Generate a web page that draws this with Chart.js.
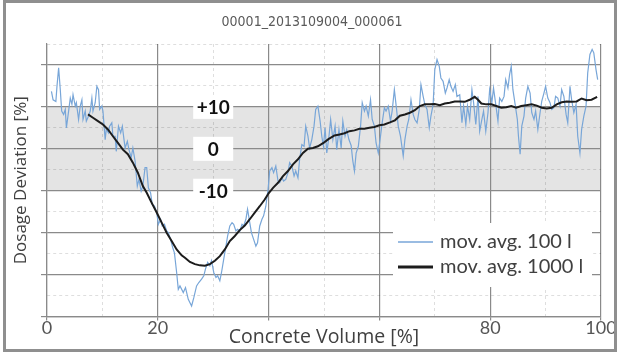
<!DOCTYPE html>
<html>
<head>
<meta charset="utf-8">
<title>Dosage Deviation</title>
<script src="https://cdn.jsdelivr.net/npm/chart.js@4/dist/chart.umd.min.js"></script>
<style>
  html, body { margin: 0; padding: 0; background: #fff; }
  #box { width: 619px; height: 353px; }
</style>
</head>
<body>
<div id="box"><canvas id="chart" width="619" height="353"></canvas></div>
<script>
// Run identifier shown above the plot
const runId = '00001_2013109004_000061';
const seriesLabels = ['mov. avg. 100 l', 'mov. avg. 1000 l'];

// Moving average over 100 l: concrete volume [%] / dosage deviation [%]
const fastX = [0.8, 1.1, 1.6, 1.8, 2.1, 2.4, 2.65, 3.0, 3.3, 3.5, 3.9, 4.2, 4.5, 4.7, 5.1, 5.3, 5.7, 6.0, 6.3, 6.5,
  6.9, 7.1, 7.5, 7.8, 8.1, 8.3, 8.7, 9.0, 9.3, 9.5, 9.9, 10.1, 10.5, 10.7, 11.1, 11.3, 11.7, 11.9, 12.3, 12.5,
  12.9, 13.3, 13.6, 13.9, 14.1, 14.5, 14.8, 15.2, 15.5, 15.9, 16.3, 16.6, 17.0, 17.3, 17.7, 18.0, 18.3, 18.7, 19.0, 19.4,
  19.8, 20.1, 20.5, 20.8, 21.2, 21.6, 21.9, 22.3, 22.7, 23.0, 23.4, 23.7, 24.0, 24.6, 25.0, 25.5, 26.1, 26.5, 27.0, 27.4,
  27.9, 28.3, 28.6, 29.0, 29.4, 29.7, 30.1, 30.5, 30.8, 31.2, 31.5, 31.9, 32.3, 32.6, 33.0, 33.4, 33.7, 34.1, 34.4, 34.8,
  35.2, 35.5, 35.9, 36.2, 36.6, 36.9, 37.3, 37.7, 38.0, 38.4, 38.8, 39.1, 39.5, 39.9, 40.2, 40.6, 40.9, 41.3, 41.7, 42.0,
  42.4, 42.7, 43.1, 43.5, 43.8, 44.2, 44.6, 44.9, 45.3, 45.6, 46.0, 46.4, 46.7, 47.1, 47.4, 47.8, 48.2, 48.5, 48.9, 49.3,
  49.6, 49.9, 50.2, 50.5, 50.9, 51.2, 51.6, 52.0, 52.3, 52.7, 53.1, 53.4, 53.8, 54.1, 54.5, 54.9, 55.2, 55.5, 55.8, 56.2,
  56.6, 56.9, 57.3, 57.6, 58.0, 58.4, 58.7, 59.1, 59.4, 59.8, 60.2, 60.5, 60.9, 61.2, 61.6, 62.0, 62.3, 62.7, 63.1, 63.4,
  63.8, 64.3, 64.6, 65.0, 65.3, 65.7, 66.1, 66.4, 66.8, 67.2, 67.5, 67.9, 68.2, 68.6, 69.0, 69.3, 69.7, 70.0, 70.4, 70.8,
  71.1, 71.5, 71.9, 72.2, 72.6, 72.9, 73.3, 73.7, 74.0, 74.5, 74.9, 75.2, 75.6, 75.9, 76.3, 76.7, 77.0, 77.4, 77.8, 78.1,
  78.5, 78.8, 79.2, 79.6, 79.9, 80.3, 80.6, 81.0, 81.4, 81.7, 82.1, 82.5, 82.8, 83.2, 83.5, 83.8, 84.1, 84.5, 84.9, 85.1,
  85.4, 85.7, 86.1, 86.4, 86.8, 87.2, 87.5, 87.9, 88.2, 88.6, 89.0, 89.3, 89.7, 90.0, 90.4, 90.8, 91.1, 91.5, 91.8, 92.2,
  92.6, 92.9, 93.3, 93.7, 94.0, 94.4, 94.7, 95.1, 95.5, 95.8, 96.2, 96.5, 96.9, 97.3, 97.6, 98.0, 98.4, 98.7, 99.1, 99.4];
const fastY = [13.7, 11.7, 11.3, 14.9, 19.3, 14.1, 9.0, 8.2, 9.4, 5.0, 9.0, 12.1, 10.6, 12.9, 10.2, 11.0, 7.0, 10.2, 11.7, 7.0,
  9.0, 6.6, 7.8, 9.0, 12.1, 9.0, 11.0, 14.9, 14.1, 9.4, 10.2, 9.0, 2.2, 4.6, 3.8, 5.4, 6.2, 3.0, 3.0, -0.6,
  5.4, 3.8, 5.4, 2.2, 0.2, 1.8, -0.2, -2.1, 0.2, -2.9, -8.9, -7.3, -10.1, -8.9, -4.5, -4.5, -9.3, -10.5, -13.3, -13.7,
  -15.2, -18.0, -16.8, -18.4, -18.0, -19.6, -20.0, -21.6, -23.6, -24.8, -29.5, -33.5, -32.7, -34.3, -33.1, -35.9, -37.5, -35.5, -32.7, -31.9,
  -31.1, -30.3, -28.7, -27.1, -27.9, -26.7, -29.5, -30.7, -30.3, -31.5, -29.5, -26.3, -23.2, -20.8, -18.4, -17.6, -18.0, -19.6, -19.2, -19.6,
  -18.0, -18.4, -16.8, -14.4, -17.6, -20.0, -21.6, -23.2, -22.4, -18.4, -16.8, -16.0, -13.7, -9.7, -5.3, -4.5, -5.7, -4.1, -7.7, -8.1,
  -6.9, -7.7, -7.3, -5.7, -3.3, -4.1, -6.5, -5.3, -6.9, -2.5, 1.0, 0.6, 5.4, 3.0, 0.2, 2.2, 5.4, 9.4, 10.2, 6.6,
  3.0, 0.6, 5.0, -1.0, 3.0, 7.0, 2.2, 5.4, -0.2, 4.6, 0.2, 6.6, 3.0, 4.6, 2.2, 0.8, -2.9, -5.3, -1.0, 0.6,
  5.4, 11.0, 9.0, 10.2, 7.8, 11.7, 7.0, 5.4, 1.4, -1.0, 3.0, 6.2, 9.8, 9.0, 10.2, 6.6, 9.0, 14.1, 9.4, 5.4,
  3.0, -1.7, 2.2, 5.4, 7.0, 11.7, 8.2, 7.0, 6.2, 9.4, 15.3, 12.5, 10.6, 9.4, 5.0, 7.8, 10.6, 18.9, 21.3, 19.7,
  16.9, 16.1, 13.3, 14.5, 16.5, 14.9, 13.7, 15.3, 12.5, 12.9, 6.2, 10.2, 5.8, 10.2, 7.0, 14.1, 11.0, 5.8, 12.5, 4.2,
  7.0, 9.0, 4.2, 8.6, 14.1, 11.0, 14.5, 10.6, 6.6, 12.1, 11.3, 12.5, 16.5, 14.5, 17.7, 19.7, 14.1, 10.6, 7.0, 3.0,
  -1.3, 5.4, 7.8, 12.1, 14.9, 13.3, 8.6, 7.0, 9.0, 4.6, 8.6, 11.3, 13.3, 14.9, 12.1, 11.0, 9.4, 9.8, 12.5, 12.1,
  10.2, 14.1, 12.5, 8.2, 6.2, 14.9, 11.7, 8.6, 10.6, 3.0, -1.0, 4.6, 7.8, 10.2, 18.1, 22.5, 23.7, 22.9, 18.9, 16.5];

// Moving average over 1000 l
const slowX = [7.4, 8.3, 9.2, 10.1, 11.0, 11.9, 12.8, 13.7, 14.6, 15.5, 16.4, 17.3, 18.0, 18.9, 19.8, 20.7, 21.6, 22.5, 23.4, 24.3,
  24.9, 25.8, 26.7, 27.6, 28.5, 29.4, 30.3, 31.2, 32.1, 33.0, 33.9, 34.8, 35.7, 36.6, 37.5, 38.4, 39.3, 40.0, 40.8, 41.7,
  42.6, 43.5, 44.4, 45.3, 46.2, 47.1, 48.0, 48.9, 49.9, 50.8, 51.9, 52.8, 53.7, 54.6, 55.5, 56.4, 57.3, 58.2, 59.1, 60.0,
  60.9, 61.9, 62.8, 63.7, 64.6, 65.5, 66.4, 67.3, 68.2, 69.1, 70.0, 70.9, 71.8, 72.7, 73.6, 74.5, 75.4, 76.3, 77.2, 77.8,
  78.4, 79.3, 80.2, 81.1, 82.0, 82.9, 83.8, 84.7, 85.6, 86.5, 87.5, 88.4, 89.3, 90.2, 91.1, 92.0, 92.9, 93.8, 94.7, 95.6,
  96.5, 97.4, 98.3, 99.3];
const slowY = [8.2, 7.4, 6.6, 5.8, 4.6, 3.0, 1.4, -0.2, -1.3, -3.3, -5.7, -8.9, -10.5, -12.9, -15.2, -17.6, -20.0, -22.0, -24.0, -25.4,
  -26.0, -27.0, -27.5, -27.8, -27.9, -27.5, -26.7, -25.6, -24.0, -22.0, -20.8, -19.4, -18.3, -16.8, -15.2, -13.7, -12.1, -10.6, -9.3, -8.1,
  -6.5, -5.3, -3.7, -2.5, -1.0, 0.0, 0.2, 0.6, 1.4, 2.3, 3.2, 3.4, 3.7, 4.2, 4.4, 4.8, 4.8, 5.0, 5.2, 5.6,
  5.8, 6.3, 6.8, 7.9, 8.2, 8.6, 9.2, 10.2, 10.6, 10.6, 10.7, 10.4, 10.8, 11.0, 11.3, 11.3, 11.2, 11.7, 12.4, 11.7,
  10.8, 10.6, 10.6, 10.2, 9.8, 9.9, 10.2, 9.8, 10.2, 10.4, 10.6, 10.3, 9.8, 9.6, 9.8, 10.6, 11.1, 11.3, 11.2, 11.3,
  12.0, 11.6, 11.7, 12.4];

// Axis ranges and labelled ticks
const xRange = [0, 100];
const yRange = [-40, 25];
const xLabelledTicks = [0, 20, 80, 100];

// Tolerance band and its markers
const bandLimits = [-10, 10];
const bandMarkers = [10, 0, -10];
const bandMarkerTexts = ['+10', '0', '-10'];
const bandMarkerAt = 30;

const toPoints = (xs, ys) => xs.map((x, i) => ({ x, y: ys[i] }));

const GRID_MAJOR = '#8a8a8a';
const GRID_MINOR = 'rgba(0,0,0,0.13)';
const CALIBRI_LIKE = 'Lato, "Liberation Sans", sans-serif';
const SEGOE_LIKE = '"Open Sans", "Noto Sans", sans-serif';

// Grey tolerance band behind the grid
const bandPlugin = {
  id: 'toleranceBand',
  beforeDraw(chart) {
    const { ctx, chartArea: a, scales: { y } } = chart;
    ctx.save();
    ctx.fillStyle = '#fff';
    ctx.fillRect(0, 0, chart.width, chart.height);
    const top = y.getPixelForValue(bandLimits[1]);
    const bottom = y.getPixelForValue(bandLimits[0]);
    ctx.fillStyle = '#e4e4e4';
    ctx.fillRect(a.left, top, a.right - a.left, bottom - top);
    ctx.restore();
  }
};

// Boxed band values, the legend, the run id and the outer frame
const overlayPlugin = {
  id: 'overlay',
  afterDatasetsDraw(chart) {
    const { ctx, scales: { x, y } } = chart;
    ctx.save();
    ctx.font = 'bold 19px ' + CALIBRI_LIKE;
    ctx.textAlign = 'center';
    ctx.textBaseline = 'middle';
    bandMarkers.forEach((v, i) => {
      const px = x.getPixelForValue(bandMarkerAt);
      const py = y.getPixelForValue(v);
      ctx.fillStyle = '#fff';
      ctx.fillRect(px - 20, py - 12, 40, 24);
      ctx.fillStyle = '#111';
      ctx.fillText(bandMarkerTexts[i], px, py + 1);
    });
    ctx.restore();
  },
  afterDraw(chart) {
    const { ctx } = chart;
    ctx.save();
    // legend
    ctx.fillStyle = '#fff';
    ctx.fillRect(393, 223, 199, 64);
    ctx.font = '20px ' + CALIBRI_LIKE;
    ctx.textAlign = 'left';
    ctx.textBaseline = 'middle';
    chart.data.datasets.forEach((ds, i) => {
      const ly = 242 + i * 25;
      ctx.strokeStyle = ds.borderColor;
      ctx.lineWidth = i === 0 ? 1.3 : 3;
      ctx.beginPath();
      ctx.moveTo(398, ly);
      ctx.lineTo(433, ly);
      ctx.stroke();
      ctx.fillStyle = '#404040';
      ctx.fillText(ds.label, 440, ly);
    });
    // run id
    ctx.font = '14px "Liberation Sans Narrow", "DejaVu Sans Condensed", sans-serif';
    ctx.fillStyle = '#5a5a5a';
    ctx.textAlign = 'center';
    ctx.fillText(runId, 312, 22);
    // frame
    ctx.strokeStyle = '#8f8f8f';
    ctx.lineWidth = 3;
    ctx.strokeRect(4.5, 1.5, 611, 349);
    ctx.restore();
  }
};

const isMajor = (ctx, step) => ctx.tick && Math.round(ctx.tick.value) % step === 0;

new Chart(document.getElementById('chart'), {
  type: 'line',
  data: {
    datasets: [
      {
        label: seriesLabels[0],
        data: toPoints(fastX, fastY),
        borderColor: '#78a6d8',
        borderWidth: 1.2,
        pointRadius: 0,
        tension: 0,
        order: 1
      },
      {
        label: seriesLabels[1],
        data: toPoints(slowX, slowY),
        borderColor: '#1c1c1c',
        borderWidth: 2,
        pointRadius: 0,
        tension: 0,
        order: 0
      }
    ]
  },
  options: {
    responsive: false,
    animation: false,
    layout: { padding: { left: 6, right: 18, top: 44, bottom: 5 } },
    plugins: {
      legend: { display: false },
      title: { display: false },
      tooltip: { enabled: false }
    },
    scales: {
      x: {
        type: 'linear',
        min: xRange[0],
        max: xRange[1],
        ticks: {
          stepSize: 10,
          autoSkip: false,
          maxRotation: 0,
          padding: -1,
          color: '#555',
          font: { family: CALIBRI_LIKE, size: 18, lineHeight: 1 },
          callback: v => (xLabelledTicks.includes(v) ? String(v) : '')
        },
        grid: {
          color: c => (isMajor(c, 20) ? GRID_MAJOR : GRID_MINOR),
          lineWidth: c => (isMajor(c, 20) ? 1.2 : 1),
          tickColor: c => (isMajor(c, 20) ? GRID_MAJOR : 'rgba(0,0,0,0)'),
          tickLength: 4
        },
        border: {
          color: GRID_MAJOR,
          width: 1.2,
          dash: c => (c.tick && !isMajor(c, 20) ? [3, 3] : [])
        },
        title: {
          display: true,
          text: 'Concrete Volume [%]',
          color: '#404040',
          font: { family: SEGOE_LIKE, size: 19.5, lineHeight: 1 },
          padding: { top: -9, bottom: 1 }
        }
      },
      y: {
        type: 'linear',
        min: yRange[0],
        max: yRange[1],
        ticks: { stepSize: 5, display: false },
        grid: {
          color: c => (isMajor(c, 10) ? GRID_MAJOR : GRID_MINOR),
          lineWidth: c => (isMajor(c, 10) ? 1.2 : 1),
          tickColor: c => (isMajor(c, 10) ? GRID_MAJOR : 'rgba(0,0,0,0)'),
          tickLength: 6
        },
        border: {
          color: GRID_MAJOR,
          width: 1.2,
          dash: c => (c.tick && !isMajor(c, 10) ? [3, 3] : [])
        },
        title: {
          display: true,
          text: 'Dosage Deviation [%]',
          color: '#404040',
          font: { family: SEGOE_LIKE, size: 17, lineHeight: 1 },
          padding: { top: 6.5, bottom: 11.5 }
        }
      }
    }
  },
  plugins: [bandPlugin, overlayPlugin]
});
</script>
</body>
</html>
